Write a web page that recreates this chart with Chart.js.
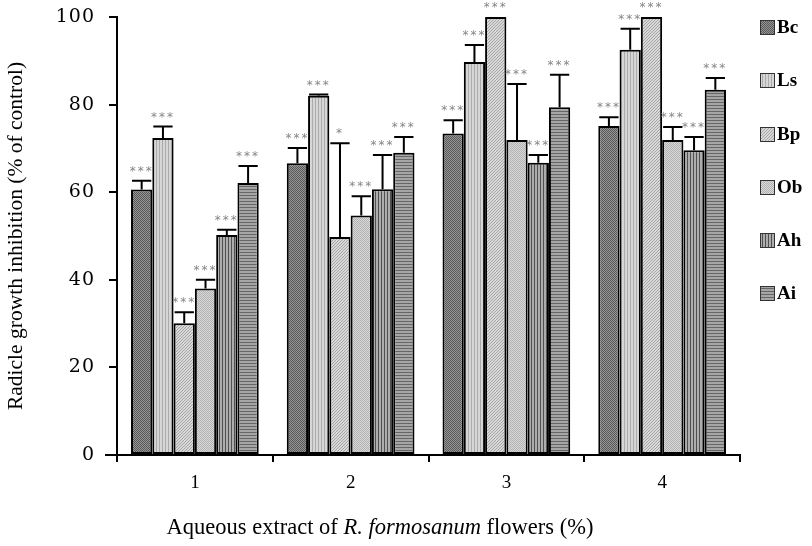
<!DOCTYPE html>
<html>
<head>
<meta charset="utf-8">
<script src="https://cdn.jsdelivr.net/npm/chart.js@4"></script>
<style>
  html, body { margin: 0; padding: 0; background: #fff; }
  #wrap { width: 812px; height: 546px; }
</style>
</head>
<body>
<div id="wrap"><canvas id="radicleChart" width="812" height="546"></canvas></div>
<script>
// concentrations of extract (%)
var categories = ['1', '2', '3', '4'];
var species = ['Bc', 'Ls', 'Bp', 'Ob', 'Ah', 'Ai'];

// mean inhibition (% of control)
var bcValues = [60.6, 66.6, 73.4, 75.1];
var lsValues = [72.4, 82.0, 89.7, 92.5];
var bpValues = [30.1, 49.8, 100, 100];
var obValues = [38.0, 54.7, 71.9, 71.9];
var ahValues = [50.2, 60.7, 66.7, 69.6];
var aiValues = [62.1, 69.0, 79.4, 83.4];

// upper error (SD)
var bcErr = [2.0, 3.5, 3.0, 2.0];
var lsErr = [2.6, 0.3, 3.9, 4.8];
var bpErr = [2.5, 21.4, 0, 0];
var obErr = [2.0, 4.4, 12.8, 3.0];
var ahErr = [1.2, 7.8, 1.8, 3.0];
var aiErr = [3.9, 3.6, 7.4, 2.7];

// significance marks
var bcSig = ['***', '***', '***', '***'];
var lsSig = ['***', '***', '***', '***'];
var bpSig = ['***', '*', '***', '***'];
var obSig = ['***', '***', '***', '***'];
var ahSig = ['***', '***', '***', '***'];
var aiSig = ['***', '***', '***', '***'];

var yTicks = [0, 20, 40, 60, 80, 100];

// little texture tiles so the bars look like the hatched originals
function makePattern(size, draw) {
    var c = document.createElement('canvas');
    c.width = size; c.height = size;
    var g = c.getContext('2d');
    draw(g, size);
    return document.getElementById('radicleChart').getContext('2d').createPattern(c, 'repeat');
}

function px(g, pts, col) {
    g.fillStyle = col;
    pts.forEach(function (p) { g.fillRect(p[0], p[1], 1, 1); });
}

var patterns = [
    // Bc - dark checker
    makePattern(2, function (g, s) {
        g.fillStyle = '#949494'; g.fillRect(0, 0, s, s);
        px(g, [[0, 0], [1, 1]], '#5a5a5a');
    }),
    // Ls - light vertical lines
    makePattern(3, function (g, s) {
        g.fillStyle = '#d6d6d6'; g.fillRect(0, 0, s, s);
        g.fillStyle = '#ababab'; g.fillRect(0, 0, 1, s);
    }),
    // Bp - light diagonal
    makePattern(3, function (g, s) {
        g.fillStyle = '#d8d8d8'; g.fillRect(0, 0, s, s);
        px(g, [[2, 0], [1, 1], [0, 2]], '#a6a6a6');
    }),
    // Ob - light checker
    makePattern(2, function (g, s) {
        g.fillStyle = '#d8d8d8'; g.fillRect(0, 0, s, s);
        px(g, [[0, 0], [1, 1]], '#b2b2b2');
    }),
    // Ah - dark vertical stripes
    makePattern(3, function (g, s) {
        g.fillStyle = '#adadad'; g.fillRect(0, 0, s, s);
        g.fillStyle = '#505050'; g.fillRect(0, 0, 1, s);
    }),
    // Ai - horizontal stripes
    makePattern(3, function (g, s) {
        g.fillStyle = '#a6a6a6'; g.fillRect(0, 0, s, s);
        g.fillStyle = '#666666'; g.fillRect(0, 0, s, 1);
    })
];

var allValues = [bcValues, lsValues, bpValues, obValues, ahValues, aiValues];
var allErr = [bcErr, lsErr, bpErr, obErr, ahErr, aiErr];
var allSig = [bcSig, lsSig, bpSig, obSig, ahSig, aiSig];

var datasets = species.map(function (name, i) {
    return {
        label: name,
        data: allValues[i],
        errUp: allErr[i],
        sig: allSig[i],
        backgroundColor: patterns[i],
        borderColor: '#000',
        borderWidth: 2,
        borderSkipped: false,
        categoryPercentage: 0.82,
        barPercentage: 1.0
    };
});

// error bars + asterisks
var errorBars = {
    id: 'errorBars',
    afterDatasetsDraw: function (chart) {
        var ctx = chart.ctx;
        var y = chart.scales.y;
        ctx.save();
        chart.data.datasets.forEach(function (ds, di) {
            var meta = chart.getDatasetMeta(di);
            meta.data.forEach(function (bar, j) {
                var v = ds.data[j];
                var top = y.getPixelForValue(v + ds.errUp[j]);
                var half = bar.width / 2 - 1;
                if (ds.errUp[j] > 0) {
                    ctx.strokeStyle = '#000';
                    ctx.lineWidth = 2;
                    ctx.beginPath();
                    ctx.moveTo(bar.x, bar.y);
                    ctx.lineTo(bar.x, top);
                    ctx.moveTo(bar.x - half, top);
                    ctx.lineTo(bar.x + half, top);
                    ctx.stroke();
                }
                ctx.fillStyle = '#858585';
                ctx.font = '12px "DejaVu Sans"';
                ctx.letterSpacing = '2px';
                ctx.textAlign = 'center';
                ctx.textBaseline = 'alphabetic';
                ctx.fillText(ds.sig[j], bar.x, top - 6);
            });
        });
        ctx.restore();
    }
};

// legend on the right and the x title with italic species name
var extras = {
    id: 'extras',
    afterDraw: function (chart) {
        var ctx = chart.ctx;
        var area = chart.chartArea;
        ctx.save();
        // axis stub left of the origin
        ctx.strokeStyle = '#000';
        ctx.lineWidth = 2;
        ctx.beginPath();
        ctx.moveTo(area.left - 12, area.bottom);
        ctx.lineTo(area.left, area.bottom);
        ctx.stroke();

        var rowY = [27, 80, 134, 187, 240, 293];
        species.forEach(function (name, i) {
            ctx.fillStyle = patterns[i];
            ctx.fillRect(760, rowY[i] - 7, 15, 15);
            ctx.strokeStyle = '#333';
            ctx.lineWidth = 1;
            ctx.strokeRect(760.5, rowY[i] - 6.5, 14, 14);
            ctx.fillStyle = '#000';
            ctx.font = 'bold 19px "Liberation Serif"';
            ctx.textAlign = 'left';
            ctx.textBaseline = 'middle';
            ctx.fillText(name, 777, rowY[i] + 1);
        });

        var parts = [
            ['Aqueous extract of ', '22.5px "Liberation Serif"'],
            ['R. formosanum', 'italic 22.5px "Liberation Serif"'],
            [' flowers (%)', '22.5px "Liberation Serif"']
        ];
        var total = 0;
        parts.forEach(function (p) { ctx.font = p[1]; total += ctx.measureText(p[0]).width; });
        var x = 380 - total / 2;
        ctx.fillStyle = '#000';
        ctx.textAlign = 'left';
        ctx.textBaseline = 'alphabetic';
        parts.forEach(function (p) {
            ctx.font = p[1];
            ctx.fillText(p[0], x, 534);
            x += ctx.measureText(p[0]).width;
        });
        ctx.restore();
    }
};

var radicleChart = new Chart(document.getElementById('radicleChart'), {
    type: 'bar',
    data: { labels: categories, datasets: datasets },
    options: {
        responsive: false,
        animation: false,
        layout: { padding: { top: 0, right: 72, left: 0, bottom: 0 } },
        plugins: {
            legend: { display: false },
            tooltip: { enabled: false }
        },
        scales: {
            x: {
                offset: true,
                grid: {
                    offset: true,
                    drawOnChartArea: false,
                    drawTicks: true,
                    tickLength: 7,
                    color: '#000',
                    lineWidth: 2
                },
                border: { color: '#000', width: 2 },
                ticks: {
                    color: '#000',
                    font: { family: 'Liberation Serif', size: 19 },
                    padding: 10
                },
                afterFit: function (s) {
                    s.height = 91;
                    s.paddingLeft = 0;
                    s.paddingRight = 0;
                }
            },
            y: {
                min: 0,
                max: 100,
                afterBuildTicks: function (s) {
                    s.ticks = yTicks.map(function (v) { return { value: v }; });
                },
                grid: {
                    drawOnChartArea: false,
                    drawTicks: true,
                    tickLength: 8,
                    color: '#000',
                    lineWidth: 2
                },
                border: { color: '#000', width: 2 },
                ticks: {
                    color: '#000',
                    font: { family: 'DejaVu Serif', size: 19 },
                    padding: 14
                },
                title: {
                    display: true,
                    text: 'Radicle growth inhibition (% of control)',
                    color: '#000',
                    font: { family: 'Liberation Serif', size: 21.5 },
                    padding: { top: 3, bottom: 0 }
                },
                afterFit: function (s) {
                    s.width = 117;
                    s.paddingTop = 17;
                    s.paddingBottom = 0;
                }
            }
        }
    },
    plugins: [errorBars, extras]
});

// the reference's y tick digits are set wide; add a little letter spacing
var yScale = radicleChart.scales.y;
var drawYLabels = yScale.drawLabels;
yScale.drawLabels = function (area) {
    this.ctx.save();
    this.ctx.letterSpacing = '1px';
    drawYLabels.call(this, area);
    this.ctx.restore();
};
radicleChart.draw();
</script>
</body>
</html>
